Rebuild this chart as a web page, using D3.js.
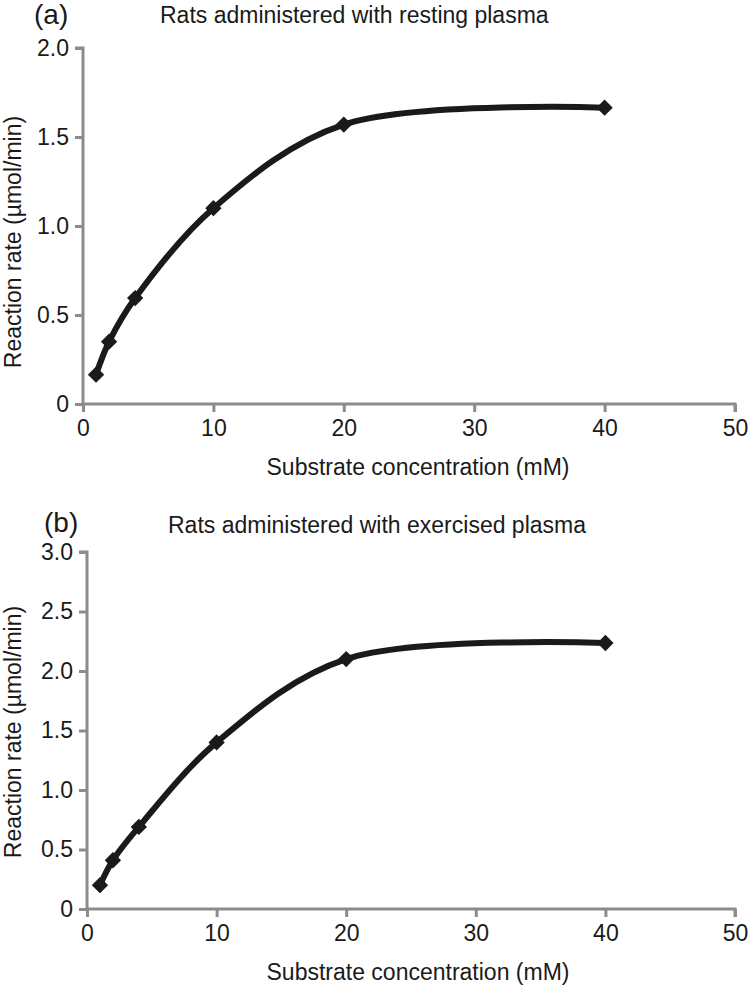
<!DOCTYPE html>
<html><head><meta charset="utf-8">
<script src="https://cdn.jsdelivr.net/npm/d3@7"></script>
<style>body{margin:0;background:#fff}svg{display:block;font-family:"Liberation Sans",Arial,sans-serif}</style>
</head><body>
<svg id="c" width="750" height="985"></svg>
<script>
const substrate = [1, 2, 4, 10, 20, 40];
const restingRate = [0.165, 0.35, 0.595, 1.10, 1.57, 1.665];
const exercisedRate = [0.20, 0.41, 0.69, 1.40, 2.10, 2.235];
const xTicks = [0, 10, 20, 30, 40, 50];
const yTicksA = [0, 0.5, 1.0, 1.5, 2.0];
const yTicksB = [0, 0.5, 1.0, 1.5, 2.0, 2.5, 3.0];

const svg = d3.select("#c");
const axisColor = "#8c8c8c";
const ink = "#1a1a1a";

function panel(cfg) {
  const x = d3.scaleLinear().domain([0, 50]).range([cfg.x0, cfg.x1]);
  const y = d3.scaleLinear().domain([0, cfg.ymax]).range([cfg.y0, cfg.y1]);
  const g = svg.append("g");
  const fmt = v => v === 0 ? "0" : d3.format(".1f")(v);

  const ya = g.append("g").attr("transform", `translate(${cfg.x0},0)`)
    .call(d3.axisLeft(y).tickValues(cfg.yTicks).tickFormat(fmt).tickSize(8).tickPadding(6));
  const xa = g.append("g").attr("transform", `translate(0,${cfg.y0})`)
    .call(d3.axisBottom(x).tickValues(xTicks).tickFormat(d3.format("d")).tickSize(8).tickPadding(8));
  [ya, xa].forEach(a => {
    a.select(".domain").attr("stroke", axisColor).attr("stroke-width", 3);
    a.selectAll(".tick line").attr("stroke", axisColor).attr("stroke-width", 3);
    a.selectAll(".tick text").attr("fill", "#1a1a1a").attr("font-size", 23)
      .attr("font-family", '"Liberation Sans",Arial,sans-serif');
  });
  ya.select(".domain").attr("d", `M-8,${cfg.y1}H0V${cfg.y0}`);
  xa.select(".domain").attr("d", `M${cfg.x0},0H${cfg.x1}V8`);

  const pts = cfg.data.map((v, i) => [x(substrate[i]), y(v)]);
  const line = d3.line().curve(d3.curveCatmullRom.alpha(0.5));
  g.append("path").attr("d", line(pts)).attr("fill", "none")
    .attr("stroke", ink).attr("stroke-width", 6).attr("stroke-linejoin", "round");
  g.selectAll(".pt").data(pts).enter().append("path")
    .attr("d", d3.symbol(d3.symbolDiamond2, 170)())
    .attr("transform", d => `translate(${d[0]},${d[1]})`)
    .attr("fill", ink);

  g.append("text").attr("x", cfg.labX).attr("y", cfg.labY).attr("font-size", 28).attr("fill", ink).text(cfg.label);
  g.append("text").attr("x", cfg.titleX).attr("y", cfg.titleY).attr("font-size", 23).attr("fill", ink).text(cfg.title);
  g.append("text").attr("x", 418).attr("y", cfg.y0 + 71)
    .attr("text-anchor", "middle").attr("font-size", 23).attr("fill", ink).text("Substrate concentration (mM)");
  g.append("text").attr("transform", `translate(21,${cfg.ylabC}) rotate(-90)`)
    .attr("text-anchor", "middle").attr("font-size", 23).attr("fill", ink).text("Reaction rate (µmol/min)");
}

panel({x0: 83, x1: 735, y0: 404, y1: 48, ymax: 2, yTicks: yTicksA, data: restingRate, ylabC: 242,
  label: "(a)", labX: 34, labY: 24, title: "Rats administered with resting plasma", titleX: 160, titleY: 23});
panel({x0: 87, x1: 735, y0: 909, y1: 552, ymax: 3, yTicks: yTicksB, data: exercisedRate, ylabC: 732,
  label: "(b)", labX: 44, labY: 532, title: "Rats administered with exercised plasma", titleX: 168, titleY: 533});
</script>
</body></html>
